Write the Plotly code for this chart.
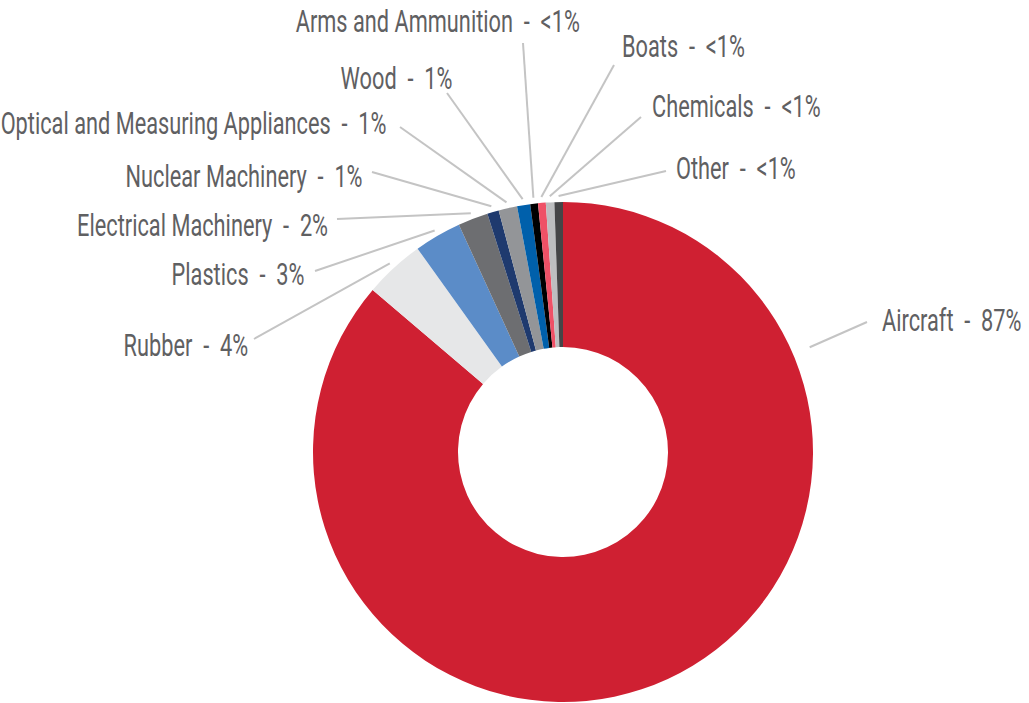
import math
import json
import plotly.graph_objects as go

# ---- data ----
categories = ["Aircraft", "Rubber", "Plastics", "Electrical Machinery", "Nuclear Machinery",
              "Optical and Measuring Appliances", "Wood", "Arms and Ammunition", "Boats",
              "Chemicals", "Other"]
values = [86.4, 3.9, 3.05, 1.95, 0.75, 1.2, 0.85, 0.5, 0.5, 0.55, 0.55]
pct_labels = ["87%", "4%", "3%", "2%", "1%", "1%", "1%", "<1%", "<1%", "<1%", "<1%"]

# ---- styles ----
colors = ["#cf2032", "#e6e7e8", "#5b8cc8", "#6d6e71", "#1f3a6e", "#939598",
          "#0060ab", "#000000", "#ef5166", "#bdbec0", "#454547"]
W, H = 1029, 703
CX, CY, R = 563, 452, 250
HOLE = 0.42
TEXT_COLOR = "#5f6062"
LINE_COLOR = "#c4c4c4"
FONT = "Roboto, Liberation Sans, sans-serif"
FONT_SIZE = 32
CONDENSE = 0.68  # horizontal squeeze to imitate the condensed typeface

# label layout: text anchor (px), side, leader-line start (px), optional leader angle override (deg cw from top)
label_layout = {
    "Aircraft": dict(x=880, y=320, side="left", sx=867, sy=322, ang=67, r=268),
    "Rubber": dict(x=250, y=345, side="right", sx=254, sy=339),
    "Plastics": dict(x=306, y=274, side="right", sx=315, sy=271),
    "Electrical Machinery": dict(x=330, y=225, side="right", sx=337, sy=219),
    "Nuclear Machinery": dict(x=365, y=176, side="right", sx=372, sy=172),
    "Optical and Measuring Appliances": dict(x=389, y=123, side="right", sx=400, sy=127),
    "Wood": dict(x=454, y=78, side="right", sx=447, sy=93),
    "Arms and Ammunition": dict(x=582, y=21, side="right", sx=523, sy=43),
    "Boats": dict(x=620, y=46, side="left", sx=614, sy=65),
    "Chemicals": dict(x=650, y=106, side="left", sx=641, sy=117),
    "Other": dict(x=674, y=168, side="left", sx=666, sy=171),
}

fig = go.Figure()
fig.add_trace(go.Pie(
    labels=categories, values=values, sort=False, direction="clockwise", rotation=0,
    hole=HOLE, textinfo="none", hoverinfo="label+percent",
    marker=dict(colors=colors, line=dict(width=0)),
    domain=dict(x=[(CX - R) / W, (CX + R) / W], y=[(H - CY - R) / H, (H - CY + R) / H]),
    showlegend=False,
))

total = sum(values)
cum = 0.0
shapes = []
annotations = []
sides = []
for cat, v, p in zip(categories, values, pct_labels):
    mid = (cum + v / 2) / total * 360.0
    cum += v
    lay = label_layout[cat]
    ang = lay.get("ang", mid)
    rr = lay.get("r", R + 6)
    ex = CX + rr * math.sin(math.radians(ang))
    ey = CY - rr * math.cos(math.radians(ang))
    shapes.append(dict(type="line", xref="paper", yref="paper",
                       x0=lay["sx"] / W, y0=1 - lay["sy"] / H, x1=ex / W, y1=1 - ey / H,
                       line=dict(color=LINE_COLOR, width=2)))
    annotations.append(dict(xref="paper", yref="paper", x=lay["x"] / W, y=1 - lay["y"] / H,
                            text=f"{cat}  -  {p}", showarrow=False,
                            xanchor="right" if lay["side"] == "right" else "left", yanchor="middle",
                            font=dict(family=FONT, size=FONT_SIZE, color=TEXT_COLOR)))
    sides.append(lay["side"])

fig.update_layout(width=W, height=H, margin=dict(l=0, r=0, t=0, b=0),
                  paper_bgcolor="white", plot_bgcolor="white",
                  shapes=shapes, annotations=annotations)

post = """
document.body.style.margin='0';
var SIDES = %s; var S = %f;
document.querySelectorAll('g.annotation').forEach(function(g){
  var idx = parseInt(g.getAttribute('data-index'));
  var t = g.querySelector('text.annotation-text');
  if(!t || isNaN(idx)) return;
  var b = t.getBBox();
  var ax = (SIDES[idx] === 'right') ? (b.x + b.width) : b.x;
  var prev = t.getAttribute('transform') || '';
  t.setAttribute('transform', prev + ' translate(' + ax + ',0) scale(' + S + ',1) translate(' + (-ax) + ',0)');
});
""" % (json.dumps(sides), CONDENSE)

fig.write_html("out.html", post_script=post, config={"displayModeBar": False})
